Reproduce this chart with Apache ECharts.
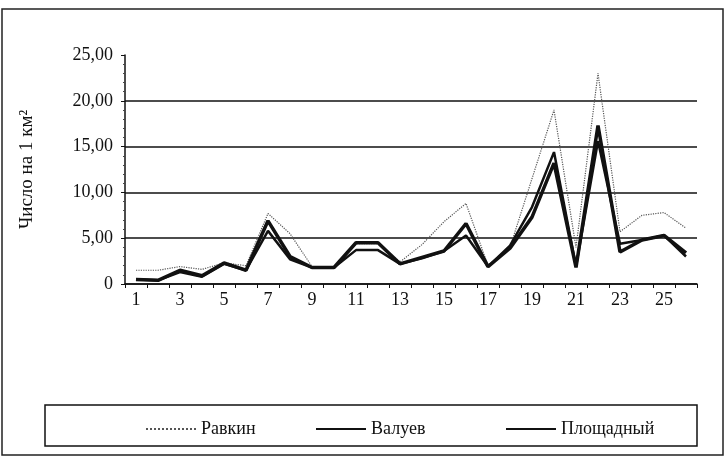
<!DOCTYPE html>
<html>
<head>
<meta charset="utf-8">
<script src="https://cdn.jsdelivr.net/npm/echarts@6/dist/echarts.min.js"></script>
<style>
  html, body { margin: 0; padding: 0; background: #fff; }
  #chart { width: 727px; height: 457px; }
</style>
</head>
<body>
<div id="chart"></div>
<script>
// номера участков
var categories = ['1', '2', '3', '4', '5', '6', '7', '8', '9', '10', '11', '12', '13',
  '14', '15', '16', '17', '18', '19', '20', '21', '22', '23', '24', '25', '26']
var ravkin = [1.5, 1.5, 1.9, 1.6, 2.3, 2.0, 7.7, 5.5, 1.9, 1.8, 4.4, 4.4, 2.4,
  4.3, 6.8, 8.8, 2.0, 4.0, 11.5, 19.0, 4.0, 23.0, 5.7, 7.5, 7.8, 6.1]
var valuev = [0.5, 0.4, 1.3, 0.8, 2.2, 1.5, 5.8, 2.7, 1.8, 1.8, 3.7, 3.7, 2.2,
  2.8, 3.6, 5.3, 1.9, 4.2, 8.4, 14.4, 1.9, 15.6, 4.4, 4.8, 5.3, 3.0]
var ploshchadny = [0.5, 0.4, 1.5, 0.9, 2.3, 1.5, 6.9, 3.0, 1.8, 1.8, 4.5, 4.5, 2.2,
  2.9, 3.6, 6.6, 1.9, 3.9, 7.3, 13.2, 1.8, 17.3, 3.5, 4.8, 5.3, 3.4]

var font = 'Liberation Serif'
var chartDom = document.getElementById('chart')
var myChart = echarts.init(chartDom)
var option

function legendFor(name, left) {
  return {
    data: [name],
    left: left,
    top: 415,
    itemWidth: 50,
    itemHeight: 10,
    itemGap: 4,
    itemStyle: { color: 'transparent', borderWidth: 0, opacity: 0 },
    textStyle: { fontFamily: font, fontSize: 18, color: '#111' },
    selectedMode: false
  }
}

option = {
  animation: false,
  backgroundColor: '#fff',
  graphic: [
    // внешняя рамка
    { type: 'rect', shape: { x: 2, y: 9, width: 721, height: 446 },
      style: { fill: 'none', stroke: '#222', lineWidth: 1.5 } },
    // рамка легенды
    { type: 'rect', shape: { x: 45, y: 405, width: 652, height: 41 },
      style: { fill: 'none', stroke: '#111', lineWidth: 1.5 } }
  ],
  legend: [
    legendFor('Равкин', 140),
    legendFor('Валуев', 310),
    legendFor('Площадный', 500)
  ],
  grid: {
    left: 125,
    right: 30,
    top: 55,
    bottom: 173,
    containLabel: false
  },
  xAxis: {
    type: 'category',
    data: categories,
    boundaryGap: true,
    axisLine: { lineStyle: { color: '#111', width: 1.5 } },
    axisTick: { show: true, length: 4, interval: 0, lineStyle: { color: '#111' } },
    axisLabel: { interval: 1, color: '#111', fontFamily: font, fontSize: 18, margin: 7 }
  },
  yAxis: {
    type: 'value',
    min: 0,
    max: 25,
    interval: 5,
    name: 'Число на 1 км²',
    nameLocation: 'middle',
    nameGap: 88,
    nameRotate: 90,
    nameTextStyle: { fontFamily: font, fontSize: 19, color: '#111' },
    axisLine: { show: true, lineStyle: { color: '#111', width: 1.5 } },
    axisTick: { show: true, length: 4, lineStyle: { color: '#111' } },
    minorTick: { show: true, splitNumber: 5, length: 2, lineStyle: { color: '#444' } },
    splitLine: {
      show: true,
      // линии сетки на 5..20, без линии у 25
      lineStyle: { color: ['#111', '#111', '#111', '#111', '#111', 'rgba(0,0,0,0)'], width: 1.5 }
    },
    axisLabel: {
      color: '#111',
      fontFamily: font,
      fontSize: 18,
      margin: 12,
      formatter: function (v) {
        if (v === 0) return '0'
        return v.toFixed(2).replace('.', ',')
      }
    }
  },
  series: [
    {
      name: 'Равкин',
      type: 'line',
      symbol: 'none',
      data: ravkin,
      lineStyle: { color: '#555', width: 1.2, type: 'dotted' },
      itemStyle: { color: '#555' },
      z: 3
    },
    {
      name: 'Валуев',
      type: 'line',
      symbol: 'none',
      data: valuev,
      lineStyle: { color: '#111', width: 2.5 },
      itemStyle: { color: '#111' },
      z: 4
    },
    {
      name: 'Площадный',
      type: 'line',
      symbol: 'none',
      data: ploshchadny,
      lineStyle: { color: '#111', width: 3.5 },
      itemStyle: { color: '#111' },
      z: 5
    }
  ]
}

option && myChart.setOption(option)

window.addEventListener('resize', function () {
  myChart.resize()
})
</script>
</body>
</html>
